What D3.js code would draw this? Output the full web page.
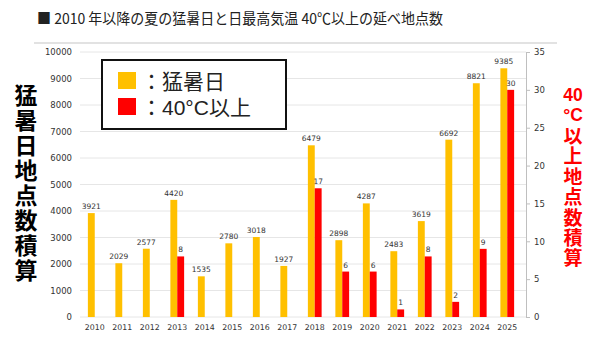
<!DOCTYPE html>
<html>
<head>
<meta charset="utf-8">
<script src="https://cdn.jsdelivr.net/npm/d3@7"></script>
<style>
  body { margin: 0; background: #fff; }
  svg { display: block; }
</style>
</head>
<body>
<svg id="canvas" width="600" height="340"></svg>
<script>
let years = ["2010","2011","2012","2013","2014","2015","2016","2017","2018","2019","2020","2021","2022","2023","2024","2025"]
let hotDays = [3921, 2029, 2577, 4420, 1535, 2780, 3018, 1927, 6479, 2898, 4287, 2483, 3619, 6692, 8821, 9385]
let over40 = [0, 0, 0, 8, 0, 0, 0, 0, 17, 6, 6, 1, 8, 2, 9, 30]
let leftTicks = [0,1000,2000,3000,4000,5000,6000,7000,8000,9000,10000]
let rightTicks = [0,5,10,15,20,25,30,35]

let yellow = "#FFC000"
let red = "#FF0000"
let numFont = "'DejaVu Sans', Verdana, sans-serif"
let jpFont = "'Noto Sans CJK JP', sans-serif"

let canvas = d3.select("#canvas")

// title
canvas.append("text")
    .attr("x", 37)
    .attr("y", 24)
    .attr("font-family", jpFont)
    .attr("font-size", 15)
    .attr("fill", "#222")
    .attr("textLength", 406)
    .attr("lengthAdjust", "spacingAndGlyphs")
    .text("■ 2010 年以降の夏の猛暑日と日最高気温 40℃以上の延べ地点数")

canvas.append("line")
    .attr("x1", 34).attr("x2", 557)
    .attr("y1", 43).attr("y2", 43)
    .attr("stroke", "#d9d9d9")
    .attr("stroke-width", 1.5)

let x = d3.scaleBand().domain(years).range([81, 521]).paddingInner(0.5).paddingOuter(0.25)
let sub = d3.scaleBand().domain(["hot", "over"]).range([0, x.bandwidth()])
let yL = d3.scaleLinear().domain([0, 10000]).range([317, 52])
let yR = d3.scaleLinear().domain([0, 35]).range([317, 52])

// gridlines
canvas.append("g")
    .selectAll("line")
    .data(leftTicks)
    .join("line")
    .attr("x1", 80).attr("x2", 526)
    .attr("y1", d => yL(d)).attr("y2", d => yL(d))
    .attr("stroke", "#e6e6e6")
    .attr("stroke-width", 1)

// left axis
let leftAxis = canvas.append("g")
    .attr("transform", "translate(76,0)")
    .call(d3.axisLeft(yL).tickValues(leftTicks).tickFormat(d3.format("d")).tickSize(0).tickPadding(4))
leftAxis.select(".domain").remove()
leftAxis.selectAll("text")
    .attr("font-family", numFont).attr("font-size", 8.5).attr("fill", "#333")

// right axis
let rightAxis = canvas.append("g")
    .attr("transform", "translate(526,0)")
    .call(d3.axisRight(yR).tickValues(rightTicks).tickSize(4).tickPadding(4))
rightAxis.select(".domain").attr("stroke", "#bfbfbf")
rightAxis.selectAll(".tick line").attr("stroke", "#bfbfbf")
rightAxis.selectAll("text")
    .attr("font-family", numFont).attr("font-size", 8.5).attr("fill", "#333")

// bottom axis labels
let bottomAxis = canvas.append("g")
    .attr("transform", "translate(0,318)")
    .call(d3.axisBottom(x).tickSize(0).tickPadding(6))
bottomAxis.select(".domain").remove()
bottomAxis.selectAll("text")
    .attr("font-family", numFont).attr("font-size", 7.8).attr("fill", "#333")

let rows = years.map((y, i) => ({ year: y, hot: hotDays[i], over: over40[i] }))

// 猛暑日 bars
canvas.append("g")
    .selectAll("rect")
    .data(rows)
    .join("rect")
    .attr("x", d => x(d.year) + sub("hot"))
    .attr("y", d => yL(d.hot))
    .attr("width", sub.bandwidth())
    .attr("height", d => yL(0) - yL(d.hot))
    .attr("fill", yellow)

// 40℃ bars
canvas.append("g")
    .selectAll("rect")
    .data(rows.filter(d => d.over > 0))
    .join("rect")
    .attr("x", d => x(d.year) + sub("over"))
    .attr("y", d => yR(d.over))
    .attr("width", sub.bandwidth())
    .attr("height", d => yR(0) - yR(d.over))
    .attr("fill", red)

// value labels
canvas.append("g")
    .selectAll("text")
    .data(rows)
    .join("text")
    .attr("x", d => x(d.year) + sub("hot") + sub.bandwidth() / 2)
    .attr("y", d => yL(d.hot) - 4)
    .attr("text-anchor", "middle")
    .attr("font-family", numFont).attr("font-size", 7.5).attr("fill", "#333")
    .text(d => d.hot)

canvas.append("g")
    .selectAll("text")
    .data(rows.filter(d => d.over > 0))
    .join("text")
    .attr("x", d => x(d.year) + sub("over") + sub.bandwidth() / 2)
    .attr("y", d => yR(d.over) - 4)
    .attr("text-anchor", "middle")
    .attr("font-family", numFont).attr("font-size", 7.5).attr("fill", "#333")
    .text(d => d.over)

// legend
let legend = canvas.append("g").attr("id", "legend")
legend.append("rect")
    .attr("x", 102).attr("y", 60)
    .attr("width", 184).attr("height", 69)
    .attr("fill", "#fff")
    .attr("stroke", "#111")
    .attr("stroke-width", 2)

let legendItems = [
    { color: yellow, label: "：猛暑日" },
    { color: red, label: "：40°C以上" }
]
legend.selectAll("rect.key")
    .data(legendItems)
    .join("rect")
    .attr("class", "key")
    .attr("x", 118)
    .attr("y", (d, i) => 72 + i * 26)
    .attr("width", 18).attr("height", 17)
    .attr("fill", d => d.color)
legend.selectAll("text")
    .data(legendItems)
    .join("text")
    .attr("x", 141)
    .attr("y", (d, i) => 89 + i * 26)
    .attr("font-family", "'Liberation Sans', 'Noto Sans CJK JP', sans-serif")
    .attr("font-size", 21)
    .attr("fill", "#222")
    .text(d => d.label)

// vertical axis titles (tategaki)
let verticalText = (str, cx, top, size, spacing, color) => {
    canvas.append("text")
        .attr("x", cx)
        .attr("y", top)
        .attr("writing-mode", "vertical-rl")
        .attr("letter-spacing", spacing)
        .attr("font-family", jpFont)
        .attr("font-weight", "bold")
        .attr("font-size", size)
        .attr("fill", color)
        .text(str)
}
verticalText("猛暑日地点数積算", 26, 83.5, 23, 2, "#000")

// right title: "40" and "°C" sit upright on their own rows
canvas.append("g")
    .selectAll("text")
    .data(["40", "°C"])
    .join("text")
    .attr("x", 573)
    .attr("y", (d, i) => 101 + i * 20.4)
    .attr("text-anchor", "middle")
    .attr("font-family", "'Liberation Sans', Arial, sans-serif")
    .attr("font-weight", "bold")
    .attr("font-size", 17.5)
    .attr("fill", red)
    .text(d => d)
verticalText("以上地点数積算", 573, 126.3, 19, 1.4, red)
</script>
</body>
</html>
